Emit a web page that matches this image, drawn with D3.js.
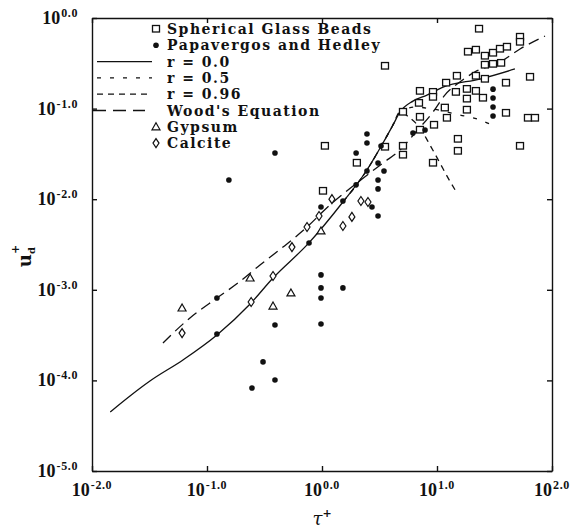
<!DOCTYPE html>
<html><head><meta charset="utf-8">
<script src="https://cdn.jsdelivr.net/npm/d3@7"></script>
<style>body{margin:0;background:#fff}</style>
</head><body><svg id="chart" width="580" height="531"></svg>
<script>
// Axis ticks (decades) and their exponent labels
const xTicks = [0.01, 0.1, 1, 10, 100];
const xTickExp = ["-2.0", "-1.0", "0.0", "1.0", "2.0"];
const yTicks = [1, 0.1, 0.01, 0.001, 0.0001, 0.00001];
const yTickExp = ["0.0", "-1.0", "-2.0", "-3.0", "-4.0", "-5.0"];

// Measured deposition velocities [tau+, u_d+]
const glassBeads = [[23.2,0.757],[52.7,0.617],[52.7,0.543],[3.53,0.295],[18.6,0.422],[21.8,0.444],[26.1,0.381],[30.7,0.411],[35.3,0.455],[40.6,0.479],[26.1,0.303],[30.7,0.310],[36.1,0.318],[14.9,0.229],[21.8,0.229],[26.1,0.212],[64.4,0.223],[39.8,0.192],[12.0,0.192],[14.6,0.152],[18.2,0.164],[21.8,0.156],[7.11,0.156],[9.23,0.152],[9.23,0.134],[18.2,0.128],[25.1,0.131],[6.97,0.115],[5.06,0.0917],[11.7,0.102],[12.2,0.0787],[18.2,0.0966],[39.8,0.0893],[61.8,0.0787],[71.1,0.0787],[7.11,0.0807],[9.42,0.0659],[15.2,0.0461],[15.2,0.0340],[52.7,0.0386],[1.06,0.0386],[5.06,0.0386],[5.06,0.0308],[3.53,0.0377],[9.23,0.0251],[2.01,0.0251],[1.02,0.0123],[7.11,0.0581]];
const papavergos = [[0.390,0.0324],[0.155,0.0163],[3.07,0.0251],[3.46,0.0205],[3.07,0.0163],[3.07,0.0130],[1.98,0.0324],[2.46,0.0205],[1.98,0.0144],[1.52,0.00955],[0.98,0.0082],[2.72,0.0082],[3.07,0.00653],[0.771,0.00329],[0.122,0.000811],[0.122,0.000325],[0.98,0.00146],[0.98,0.00105],[1.52,0.00105],[0.98,0.000811],[0.390,0.000408],[0.98,0.00042],[0.307,0.00016],[0.390,0.000101],[0.246,0.0000824],[2.46,0.0525],[2.46,0.0417],[6.18,0.0538],[7.87,0.0581],[30.7,0.164],[30.7,0.131],[30.7,0.104],[30.7,0.0828],[3.26,0.0386]];
const gypsum = [[0.0607,0.00063],[0.237,0.00135],[0.375,0.000662],[0.537,0.000923],[0.98,0.00446]];
const calcite = [[0.0607,0.000333],[0.242,0.000733],[0.375,0.00142],[0.548,0.00296],[0.741,0.00493],[0.942,0.00653],[1.22,0.0100],[1.52,0.00506],[1.82,0.00637],[2.18,0.00955],[2.51,0.00931]];

// Model curves
const r00Tau = [0.0144,0.0214,0.0319,0.0618,0.122,0.237,0.375,0.755,1.52,2.46,3.39,4.14,4.77,6.18,8.18,11.3,23.7,47.6];
const r00U   = [4.48e-5,6.73e-5,9.84e-5,1.68e-4,3.17e-4,6.97e-4,1.35e-3,3.21e-3,9.31e-3,0.0210,0.0417,0.0659,0.0917,0.121,0.141,0.173,0.212,0.274];
const r05Tau = [1.52,2.46,3.39,4.14,4.77,6.44,9.06,15.8,22.3,30.1];
const r05U   = [9.31e-3,0.0210,0.0417,0.0659,0.0917,0.104,0.0991,0.0849,0.0767,0.0659];
const r096Tau = [1.52,2.46,3.39,4.14,4.77,5.82,7.11,8.69,10.6,12.5,14.4];
const r096U   = [9.31e-3,0.0210,0.0417,0.0659,0.0917,0.0787,0.0611,0.0396,0.0251,0.0171,0.0126];
const woodTau = [0.0414,0.0711,0.122,0.186,0.289,0.458,0.741,1.17,2.01,3.39,4.77,6.44,9.23,11.7,15.8,21.4,35.3,52.7,86.9];
const woodU   = [2.59e-4,4.89e-4,8.11e-4,1.19e-3,1.88e-3,2.96e-3,4.93e-3,8.63e-3,0.0151,0.0251,0.0349,0.0538,0.0917,0.141,0.197,0.254,0.327,0.455,0.632];

const legendLabels = ["Spherical Glass Beads","Papavergos and Hedley","r = 0.0","r = 0.5","r = 0.96","Wood's Equation","Gypsum","Calcite"];

const svg = d3.select("#chart");
const ink = "#111";
const serif = "'DejaVu Serif', serif";
const numFont = "'Liberation Serif', serif";

const x = d3.scaleLog().domain([1e-2, 1e2]).range([92, 552]);
const y = d3.scaleLog().domain([1e-5, 1]).range([471, 18]);

// Frame with inward ticks on all four sides
function styleAxis(g) {
  g.selectAll("path,line").attr("stroke", ink).attr("stroke-width", 1.4);
  g.selectAll("text").remove();
}
svg.append("g").attr("transform","translate(0,471)")
  .call(d3.axisBottom(x).tickValues(xTicks).tickSizeInner(-5).tickSizeOuter(0)).call(styleAxis);
svg.append("g").attr("transform","translate(0,18)")
  .call(d3.axisTop(x).tickValues(xTicks).tickSizeInner(-5).tickSizeOuter(0)).call(styleAxis);
svg.append("g").attr("transform","translate(92,0)")
  .call(d3.axisLeft(y).tickValues(yTicks).tickSizeInner(-5).tickSizeOuter(0)).call(styleAxis);
svg.append("g").attr("transform","translate(552,0)")
  .call(d3.axisRight(y).tickValues(yTicks).tickSizeInner(-5).tickSizeOuter(0)).call(styleAxis);

// Power-of-ten tick labels
function powerLabel(sel, exp) {
  sel.attr("font-family", numFont).attr("font-weight", "bold").attr("fill", ink);
  sel.append("tspan").attr("font-size", 18).text("10");
  sel.append("tspan").attr("font-size", 12).attr("dx", 1).attr("dy", -7).attr("letter-spacing", 0.6).text(exp);
}
xTicks.forEach((t, i) => {
  svg.append("text").attr("x", x(t)).attr("y", 496).attr("text-anchor", "middle")
    .call(powerLabel, xTickExp[i]);
});
yTicks.forEach((t, i) => {
  svg.append("text").attr("x", 78).attr("y", y(t) + 6).attr("text-anchor", "end")
    .call(powerLabel, yTickExp[i]);
});

// Axis titles
const xt = svg.append("text").attr("x", 322).attr("y", 525).attr("text-anchor", "middle")
  .attr("font-family", serif).attr("fill", ink);
xt.append("tspan").attr("font-size", 18).attr("font-style", "italic").text("τ");
xt.append("tspan").attr("font-size", 11).attr("font-weight", "bold").attr("dy", -8).text("+");

const yt = svg.append("text").attr("transform", "translate(31,256) rotate(-90)").attr("text-anchor", "middle")
  .attr("font-family", serif).attr("fill", ink).attr("font-weight", "bold");
yt.append("tspan").attr("font-size", 18).text("u");
yt.append("tspan").attr("font-size", 10).attr("dy", 4).text("d");
yt.append("tspan").attr("font-size", 11).attr("dx", -7).attr("dy", -16).text("+");

// Curves
const line = d3.line().x(d => x(d[0])).y(d => y(d[1])).curve(d3.curveMonotoneX);
const curves = [
  {tau: r00Tau, u: r00U, dash: null},
  {tau: r05Tau, u: r05U, dash: "4,9"},
  {tau: r096Tau, u: r096U, dash: "6,5"},
  {tau: woodTau, u: woodU, dash: "11,6"}
];
curves.forEach(c => {
  svg.append("path").datum(c.tau.map((t, i) => [t, c.u[i]]))
    .attr("d", line).attr("fill", "none").attr("stroke", ink).attr("stroke-width", 1.3)
    .attr("stroke-dasharray", c.dash);
});

// Marker symbols
function square(g, cx, cy) { g.append("rect").attr("x", cx-3.5).attr("y", cy-3.5).attr("width", 7).attr("height", 6.5)
  .attr("fill", "#fff").attr("stroke", ink).attr("stroke-width", 1.3); }
function dot(g, cx, cy) { g.append("circle").attr("cx", cx).attr("cy", cy).attr("r", 2.8).attr("fill", ink); }
function triangle(g, cx, cy) { g.append("path").attr("d", `M${cx},${cy-4}L${cx+4},${cy+3}L${cx-4},${cy+3}Z`)
  .attr("fill", "#fff").attr("stroke", ink).attr("stroke-width", 1.2); }
function diamond(g, cx, cy) { g.append("path").attr("d", `M${cx},${cy-4.5}L${cx+3},${cy}L${cx},${cy+4.5}L${cx-3},${cy}Z`)
  .attr("fill", "#fff").attr("stroke", ink).attr("stroke-width", 1.2); }

const pts = svg.append("g");
glassBeads.forEach(d => square(pts, x(d[0]), y(d[1])));
gypsum.forEach(d => triangle(pts, x(d[0]), y(d[1])));
calcite.forEach(d => diamond(pts, x(d[0]), y(d[1])));
papavergos.forEach(d => dot(pts, x(d[0]), y(d[1])));

// Legend: marker or line sample, then label
const lg = svg.append("g");
const legendMarks = [g => square(g, 156, 0), g => dot(g, 156, 0), null, null, null, null,
  g => triangle(g, 156, 0), g => diamond(g, 156, 0)];
const legendDash = [null, null, null, "4,9", "6,5", "13,7", null, null];
const legendStart = [0, 0, 97, 97, 97, 93, 0, 0];
const legendEnd = [0, 0, 152, 152, 152, 145, 0, 0];
legendLabels.forEach((label, i) => {
  const row = lg.append("g").attr("transform", `translate(0,${29 + i * 16.3})`);
  if (legendMarks[i]) legendMarks[i](row);
  else row.append("line").attr("x1", legendStart[i]).attr("x2", legendEnd[i]).attr("y1", 0).attr("y2", 0)
    .attr("stroke", ink).attr("stroke-width", 1.3).attr("stroke-dasharray", legendDash[i]);
  row.append("text").attr("x", 167).attr("y", 5).attr("font-family", serif).attr("font-weight", "bold")
    .attr("font-size", 14).attr("letter-spacing", 1.5).attr("fill", ink).text(label);
});
</script>
</body></html>
